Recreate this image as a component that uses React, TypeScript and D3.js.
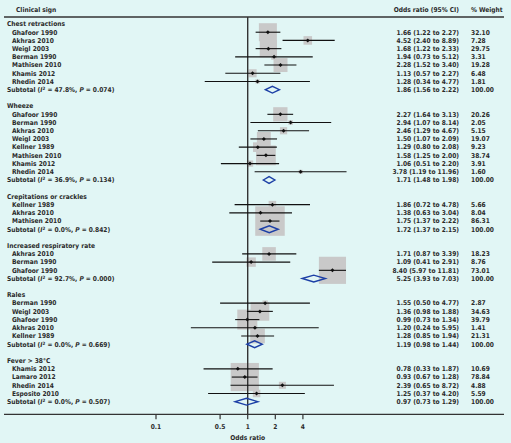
import React from "react";
import * as d3 from "d3";

const groupNames = [
  "Chest retractions",
  "Wheeze",
  "Crepitations or crackles",
  "Increased respiratory rate",
  "Rales",
  "Fever > 38°C",
];

const studyNames = [
  ["Ghafoor 1990", "Akhras 2010", "Weigl 2003", "Berman 1990", "Mathisen 2010", "Khamis 2012", "Rhedin 2014"],
  ["Ghafoor 1990", "Berman 1990", "Akhras 2010", "Weigl 2003", "Kellner 1989", "Mathisen 2010", "Khamis 2012", "Rhedin 2014"],
  ["Kellner 1989", "Akhras 2010", "Mathisen 2010"],
  ["Akhras 2010", "Berman 1990", "Ghafoor 1990"],
  ["Berman 1990", "Weigl 2003", "Ghafoor 1990", "Akhras 2010", "Kellner 1989"],
  ["Khamis 2012", "Lamaro 2012", "Rhedin 2014", "Esposito 2010"],
];

const oddsRatios = [
  [1.66, 4.52, 1.68, 1.94, 2.28, 1.13, 1.28],
  [2.27, 2.94, 2.46, 1.5, 1.29, 1.58, 1.06, 3.78],
  [1.86, 1.38, 1.75],
  [1.71, 1.09, 8.4],
  [1.55, 1.36, 0.99, 1.2, 1.28],
  [0.78, 0.93, 2.39, 1.25],
];

const lowerCI = [
  [1.22, 2.4, 1.22, 0.73, 1.52, 0.57, 0.34],
  [1.64, 1.07, 1.29, 1.07, 0.8, 1.25, 0.51, 1.19],
  [0.72, 0.63, 1.37],
  [0.87, 0.41, 5.97],
  [0.5, 0.98, 0.73, 0.24, 0.85],
  [0.33, 0.67, 0.65, 0.37],
];

const upperCI = [
  [2.27, 8.89, 2.33, 5.12, 3.4, 2.27, 4.77],
  [3.13, 8.14, 4.67, 2.09, 2.08, 2.0, 2.2, 11.96],
  [4.78, 3.04, 2.22],
  [3.39, 2.91, 11.81],
  [4.77, 1.88, 1.34, 5.95, 1.94],
  [1.87, 1.28, 8.72, 4.2],
];

const weights = [
  [32.1, 7.28, 29.75, 3.31, 19.28, 6.48, 1.81],
  [20.26, 2.05, 5.15, 19.07, 9.23, 38.74, 3.91, 1.6],
  [5.66, 8.04, 86.31],
  [18.23, 8.76, 73.01],
  [2.87, 34.63, 39.79, 1.41, 21.31],
  [10.69, 78.84, 4.88, 5.59],
];

const subtotalOR = [1.86, 1.71, 1.72, 5.25, 1.19, 0.97];
const subtotalLo = [1.56, 1.48, 1.37, 3.93, 0.98, 0.73];
const subtotalHi = [2.22, 1.98, 2.15, 7.03, 1.44, 1.29];
const subtotalI2 = ["47.8%", "36.9%", "0.0%", "92.7%", "0.0%", "0.0%"];
const subtotalP = ["0.074", "0.134", "0.842", "0.000", "0.669", "0.507"];

const tickValues = [0.1, 0.5, 1, 2, 4];
const tickLabels = ["0.1", "0.5", "1", "2", "4"];

type Row =
  | { kind: "group"; g: number; idx: number }
  | { kind: "study"; g: number; s: number; idx: number }
  | { kind: "subtotal"; g: number; idx: number };

const W = 511;
const H = 443;
const BG = "#e1f6f5";
const FONT = "'DejaVu Sans Condensed', 'Liberation Sans Narrow', sans-serif";
const BLUE = "#1c3fa6";

export default function App() {
  const rows: Row[] = [];
  let idx = 0;
  groupNames.forEach((_, g) => {
    rows.push({ kind: "group", g, idx: idx++ });
    studyNames[g].forEach((_, s) => rows.push({ kind: "study", g, s, idx: idx++ }));
    rows.push({ kind: "subtotal", g, idx: idx++ });
    idx++; // blank
  });
  const nRows = idx - 1;

  const x = d3.scaleLog().domain([0.1, 1]).range([156, 247.7]);
  const y = d3.scaleLinear().domain([0, nRows - 1]).range([24, 401.7]);
  const boxSide = d3.scaleSqrt().domain([0, 32.1]).range([0, 18]);

  const fmt = d3.format(".2f");
  const ciText = (o: number, l: number, h: number) => `${fmt(o)} (${fmt(l)} to ${fmt(h)})`;

  const axisY = 414.3;
  const headerLineY = 17;
  const x1 = x(1);

  const textProps = {
    fontFamily: FONT,
    fontSize: 6.6,
    fontWeight: 700 as const,
    fill: "#2a2a2a",
  };

  return (
    <div style={{ position: "fixed", left: 0, top: 0 }}>
      <svg width={W} height={H} style={{ display: "block" }}>
        <rect x={0} y={0} width={W} height={H} fill={BG} />
        {/* header */}
        <text {...textProps} x={16} y={10} dy="0.35em">Clinical sign</text>
        <text {...textProps} x={459} y={10} dy="0.35em" textAnchor="end">Odds ratio (95% CI)</text>
        <text {...textProps} x={471} y={10} dy="0.35em">% Weight</text>
        <line x1={4} x2={504} y1={headerLineY} y2={headerLineY} stroke="#333" strokeWidth={1.3} />

        {/* boxes */}
        {rows.map((r) => {
          if (r.kind !== "study") return null;
          const side = boxSide(weights[r.g][r.s]);
          const cx = x(oddsRatios[r.g][r.s]);
          const cy = y(r.idx);
          return (
            <rect key={`b${r.idx}`} x={cx - side / 2} y={cy - side / 2} width={side} height={side} fill="#c9c9c9" />
          );
        })}

        {/* reference line */}
        <line x1={x1} x2={x1} y1={headerLineY} y2={axisY} stroke="#333" strokeWidth={1.4} />

        {/* CI lines and points */}
        {rows.map((r) => {
          if (r.kind !== "study") return null;
          const cy = y(r.idx);
          const cx = x(oddsRatios[r.g][r.s]);
          return (
            <g key={`l${r.idx}`}>
              <line x1={x(lowerCI[r.g][r.s])} x2={x(upperCI[r.g][r.s])} y1={cy} y2={cy} stroke="#111" strokeWidth={1.1} />
              <path d={`M${cx - 2},${cy} L${cx},${cy - 2} L${cx + 2},${cy} L${cx},${cy + 2} Z`} fill="#111" />
            </g>
          );
        })}

        {/* diamonds */}
        {rows.map((r) => {
          if (r.kind !== "subtotal") return null;
          const cy = y(r.idx);
          const lo = x(subtotalLo[r.g]);
          const hi = x(subtotalHi[r.g]);
          const mid = x(subtotalOR[r.g]);
          return (
            <path
              key={`d${r.idx}`}
              d={`M${lo},${cy} L${mid},${cy - 3.4} L${hi},${cy} L${mid},${cy + 3.4} Z`}
              fill="none"
              stroke={BLUE}
              strokeWidth={1.4}
            />
          );
        })}

        {/* labels */}
        {rows.map((r) => {
          const cy = y(r.idx);
          if (r.kind === "group") {
            return (
              <text key={`t${r.idx}`} {...textProps} x={7} y={cy} dy="0.35em">{groupNames[r.g]}</text>
            );
          }
          if (r.kind === "study") {
            return (
              <g key={`t${r.idx}`}>
                <text {...textProps} x={12} y={cy} dy="0.35em">{studyNames[r.g][r.s]}</text>
                <text {...textProps} x={459} y={cy} dy="0.35em" textAnchor="end">
                  {ciText(oddsRatios[r.g][r.s], lowerCI[r.g][r.s], upperCI[r.g][r.s])}
                </text>
                <text {...textProps} x={471} y={cy} dy="0.35em">{fmt(weights[r.g][r.s])}</text>
              </g>
            );
          }
          return (
            <g key={`t${r.idx}`}>
              <text {...textProps} x={7} y={cy} dy="0.35em">
                Subtotal (<tspan fontStyle="italic">I</tspan>
                <tspan fontSize={4.5} dy="-2">2</tspan>
                <tspan dy="2"> = {subtotalI2[r.g]}, </tspan>
                <tspan fontStyle="italic">P</tspan> = {subtotalP[r.g]})
              </text>
              <text {...textProps} x={459} y={cy} dy="0.35em" textAnchor="end">
                {ciText(subtotalOR[r.g], subtotalLo[r.g], subtotalHi[r.g])}
              </text>
              <text {...textProps} x={471} y={cy} dy="0.35em">100.00</text>
            </g>
          );
        })}

        {/* axis */}
        <line x1={4} x2={504} y1={axisY} y2={axisY} stroke="#333" strokeWidth={1.3} />
        {tickValues.map((t, i) => (
          <g key={`tk${i}`}>
            <line x1={x(t)} x2={x(t)} y1={axisY} y2={axisY + 5} stroke="#333" strokeWidth={1.2} />
            <text {...textProps} x={x(t)} y={axisY + 12.5} dy="0.35em" textAnchor="middle">{tickLabels[i]}</text>
          </g>
        ))}
        <text {...textProps} x={x1} y={438} dy="0.35em" textAnchor="middle">Odds ratio</text>
      </svg>
    </div>
  );
}
